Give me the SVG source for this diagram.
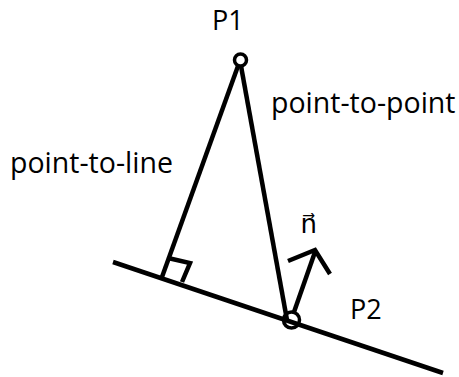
<svg xmlns="http://www.w3.org/2000/svg" width="459" height="377" viewBox="0 0 459 377">
<style>
.ln{stroke:#000;stroke-width:4.5;fill:none;stroke-linecap:butt;stroke-linejoin:miter}
.lbl{font-family:"Open Sans","Liberation Sans",sans-serif;font-size:27px;fill:#000}
.big{font-size:28.5px}
.vec{font-family:"DejaVu Sans",sans-serif;font-size:26px}
</style>
<rect width="459" height="377" fill="#fff"/>
<g id="connectors">
<line class="ln" x1="113" y1="262" x2="443" y2="373"/>
<line class="ln" x1="238" y1="66" x2="162" y2="277"/>
<line class="ln" x1="241" y1="66" x2="287" y2="320"/>
<polyline class="ln" points="168,258 190,263 182,282"/>
<line class="ln" x1="294" y1="312" x2="315" y2="252"/>
<polyline class="ln" points="288,261 315,250 330,274"/>
</g>
<g id="P1">
<circle cx="240.5" cy="60" r="6" fill="#fff" stroke="#000" stroke-width="3.5"/>
<text class="lbl" x="212" y="30">P1</text>
</g>
<g id="P2">
<circle cx="291.5" cy="320" r="8" fill="none" stroke="#000" stroke-width="3.5"/>
<text class="lbl" x="350" y="319">P2</text>
</g>
<g id="labels">
<text class="lbl big" x="271" y="113">point-to-point</text>
<text class="lbl big" x="10" y="173">point-to-line</text>
<text class="vec" x="300.5" y="233">n&#x20D7;</text>
</g>
</svg>
